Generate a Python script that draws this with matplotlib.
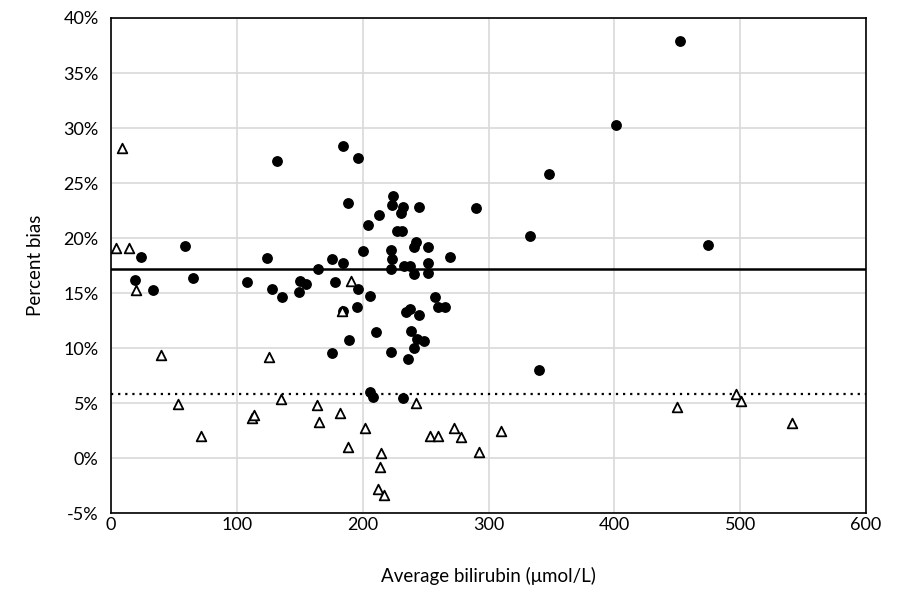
import matplotlib
matplotlib.use("Agg")
import matplotlib.pyplot as plt
from matplotlib.ticker import FuncFormatter, MultipleLocator

plt.rcParams["font.family"] = ["Lato", "DejaVu Sans"]

# filled circles (bilirubin, % bias)
circ_x = [132, 184.5, 196, 188, 24, 59, 124, 175.5, 184.3, 164.4, 200.5,
          18.7, 33.5, 65.4, 107.7, 127.8, 135.5, 150, 154.6, 149.2, 178.3,
          196, 184, 195.5, 189.5, 175.5, 347.7, 224.4, 223.2, 232.3, 230.8,
          244.5, 213, 204.4, 227.5, 231.2, 289.7, 332.6, 242.2, 240.8, 252.1,
          222.1, 223.3, 269.7, 233, 237.8, 222.1, 252.1, 241, 252.1, 205.7,
          257.3, 260.2, 265.2, 237.3, 234.8, 244.6, 210.6, 238.3, 243.2,
          248.4, 241, 222.1, 235.9, 340, 205.7, 208.4, 232.1, 451.8, 401.5,
          474.6]
circ_y = [27.0, 28.4, 27.3, 23.2, 18.3, 19.3, 18.15, 18.1, 17.7, 17.15, 18.85,
          16.15, 15.3, 16.4, 16.0, 15.4, 14.6, 16.1, 15.8, 15.1, 16.0,
          15.4, 13.35, 13.7, 10.7, 9.55, 25.8, 23.85, 23.0, 22.8, 22.3,
          22.85, 22.05, 21.15, 20.65, 20.65, 22.7, 20.2, 19.65, 19.2, 19.2,
          18.95, 18.1, 18.3, 17.5, 17.5, 17.15, 17.7, 16.7, 16.85, 14.7,
          14.6, 13.7, 13.7, 13.55, 13.25, 13.0, 11.5, 11.55, 10.8,
          10.65, 10.0, 9.6, 9.0, 8.0, 6.0, 5.55, 5.43, 37.9, 30.3,
          19.4]

# open triangles
tri_x = [9, 3.6, 14.2, 20, 190.6, 183.8, 39.9, 125.4, 53.6, 135.3, 111.7,
         114, 71.4, 163.3, 165.5, 181.8, 188, 242.1, 202, 214.4, 213.4,
         211.8, 216.8, 253.1, 259.7, 272.2, 278.5, 292.3, 309.8, 449.4,
         496.6, 500.8, 541]
tri_y = [28.2, 19.1, 19.1, 15.25, 16.05, 13.35, 9.4, 9.2, 4.9, 5.4, 3.6,
         3.9, 2.0, 4.8, 3.3, 4.05, 1.03, 5.0, 2.75, 0.48, -0.85,
         -2.85, -3.4, 2.03, 2.03, 2.75, 1.88, 0.57, 2.45, 4.67,
         5.8, 5.2, 3.2]

mean_circ = 17.2
mean_tri = 5.85

fig = plt.figure(figsize=(9.05, 5.92), dpi=100)
ax = fig.add_axes([0.1227, 0.1334, 0.8342, 0.8362])

ax.grid(True, color="#d9d9d9", linewidth=1.2, zorder=0)
ax.set_axisbelow(True)

ax.axhline(mean_circ, color="black", linewidth=1.8, zorder=2)
ax.axhline(mean_tri, color="black", linewidth=1.6, linestyle=(0, (1, 2.2)), zorder=2)

ax.scatter(circ_x, circ_y, s=46, color="black", zorder=3)
ax.scatter(tri_x, tri_y, s=48, marker="^", facecolor="white",
           edgecolor="black", linewidth=1.3, zorder=4)

ax.set_xlim(0, 600)
ax.set_ylim(-5, 40)
ax.xaxis.set_major_locator(MultipleLocator(100))
ax.yaxis.set_major_locator(MultipleLocator(5))
ax.yaxis.set_major_formatter(FuncFormatter(lambda v, _: f"{v:.0f}%"))
ax.tick_params(length=0, labelsize=13)
ax.tick_params(axis="x", pad=3)
ax.tick_params(axis="y", pad=9)

for s in ax.spines.values():
    s.set_color("black")
    s.set_linewidth(1.2)

ax.set_xlabel("Average bilirubin (μmol/L)", fontsize=13.5, labelpad=24)
ax.set_ylabel("Percent bias", fontsize=13.5, labelpad=14)

fig.savefig("out.png", dpi=100)
